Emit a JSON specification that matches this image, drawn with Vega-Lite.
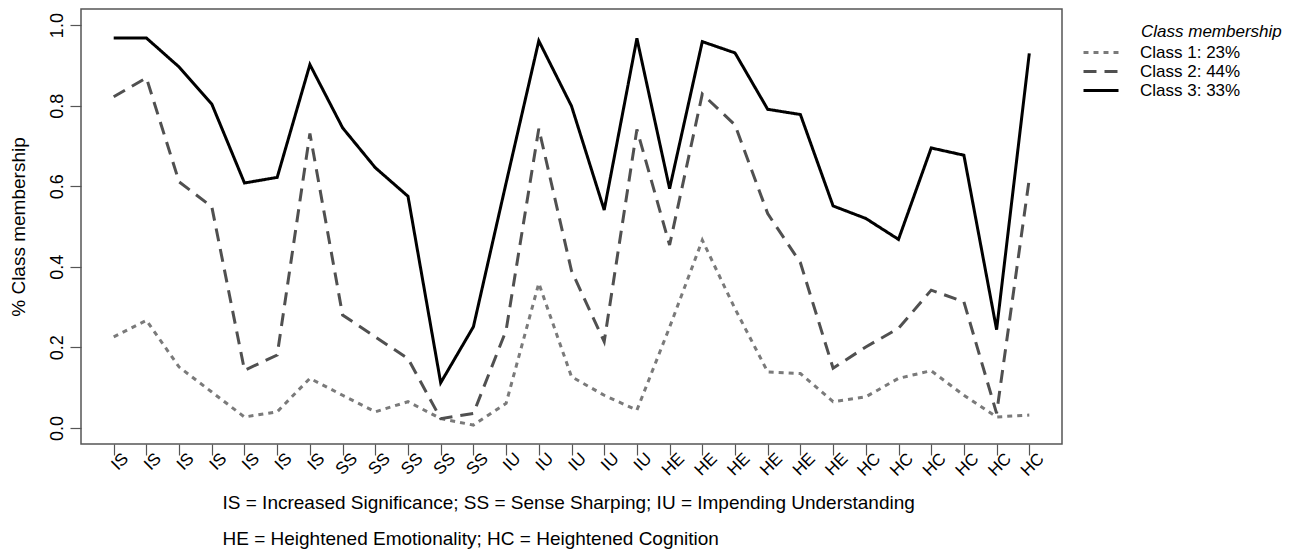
{
  "$schema": "https://vega.github.io/schema/vega-lite/v6.json",
  "width": 981,
  "height": 435,
  "autosize": {"type": "none"},
  "padding": {"left": 81, "top": 9, "right": 233, "bottom": 105},
  "background": "white",
  "data": {
    "values": [
      {"id": "IS1", "Class 1: 23%": 0.226, "Class 2: 44%": 0.822, "Class 3: 33%": 0.968},
      {"id": "IS2", "Class 1: 23%": 0.267, "Class 2: 44%": 0.869, "Class 3: 33%": 0.968},
      {"id": "IS3", "Class 1: 23%": 0.151, "Class 2: 44%": 0.611, "Class 3: 33%": 0.896},
      {"id": "IS4", "Class 1: 23%": 0.089, "Class 2: 44%": 0.549, "Class 3: 33%": 0.804},
      {"id": "IS5", "Class 1: 23%": 0.027, "Class 2: 44%": 0.143, "Class 3: 33%": 0.608},
      {"id": "IS6", "Class 1: 23%": 0.040, "Class 2: 44%": 0.181, "Class 3: 33%": 0.622},
      {"id": "IS7", "Class 1: 23%": 0.123, "Class 2: 44%": 0.731, "Class 3: 33%": 0.902},
      {"id": "SS1", "Class 1: 23%": 0.081, "Class 2: 44%": 0.280, "Class 3: 33%": 0.745},
      {"id": "SS2", "Class 1: 23%": 0.040, "Class 2: 44%": 0.226, "Class 3: 33%": 0.646},
      {"id": "SS3", "Class 1: 23%": 0.065, "Class 2: 44%": 0.172, "Class 3: 33%": 0.575},
      {"id": "SS4", "Class 1: 23%": 0.023, "Class 2: 44%": 0.023, "Class 3: 33%": 0.112},
      {"id": "SS5", "Class 1: 23%": 0.007, "Class 2: 44%": 0.036, "Class 3: 33%": 0.251},
      {"id": "IU1", "Class 1: 23%": 0.061, "Class 2: 44%": 0.242, "Class 3: 33%": 0.608},
      {"id": "IU2", "Class 1: 23%": 0.359, "Class 2: 44%": 0.743, "Class 3: 33%": 0.961},
      {"id": "IU3", "Class 1: 23%": 0.127, "Class 2: 44%": 0.390, "Class 3: 33%": 0.799},
      {"id": "IU4", "Class 1: 23%": 0.081, "Class 2: 44%": 0.214, "Class 3: 33%": 0.541},
      {"id": "IU5", "Class 1: 23%": 0.044, "Class 2: 44%": 0.741, "Class 3: 33%": 0.967},
      {"id": "HE1", "Class 1: 23%": 0.250, "Class 2: 44%": 0.454, "Class 3: 33%": 0.594},
      {"id": "HE2", "Class 1: 23%": 0.466, "Class 2: 44%": 0.829, "Class 3: 33%": 0.959},
      {"id": "HE3", "Class 1: 23%": 0.296, "Class 2: 44%": 0.752, "Class 3: 33%": 0.931},
      {"id": "HE4", "Class 1: 23%": 0.139, "Class 2: 44%": 0.532, "Class 3: 33%": 0.791},
      {"id": "HE5", "Class 1: 23%": 0.135, "Class 2: 44%": 0.410, "Class 3: 33%": 0.778},
      {"id": "HE6", "Class 1: 23%": 0.065, "Class 2: 44%": 0.148, "Class 3: 33%": 0.551},
      {"id": "HC1", "Class 1: 23%": 0.077, "Class 2: 44%": 0.201, "Class 3: 33%": 0.520},
      {"id": "HC2", "Class 1: 23%": 0.123, "Class 2: 44%": 0.247, "Class 3: 33%": 0.468},
      {"id": "HC3", "Class 1: 23%": 0.142, "Class 2: 44%": 0.342, "Class 3: 33%": 0.695},
      {"id": "HC4", "Class 1: 23%": 0.081, "Class 2: 44%": 0.313, "Class 3: 33%": 0.677},
      {"id": "HC5", "Class 1: 23%": 0.027, "Class 2: 44%": 0.036, "Class 3: 33%": 0.244},
      {"id": "HC6", "Class 1: 23%": 0.032, "Class 2: 44%": 0.619, "Class 3: 33%": 0.930}
    ]
  },
  "transform": [
    {"fold": ["Class 1: 23%", "Class 2: 44%", "Class 3: 33%"], "as": ["cls", "value"]}
  ],
  "mark": {"type": "line", "strokeCap": "butt", "strokeJoin": "miter"},
  "encoding": {
    "x": {
      "field": "id",
      "type": "ordinal",
      "sort": null,
      "scale": {"type": "point", "padding": 1.045},
      "axis": {
        "title": ["IS = Increased Significance; SS = Sense Sharping; IU = Impending Understanding", "HE = Heightened Emotionality; HC = Heightened Cognition"],
        "titleFontSize": 19,
        "titleX": 141,
        "titleY": 64,
        "titleAlign": "left",
        "titleBaseline": "alphabetic",
        "titleLineHeight": 36,
        "labelExpr": "substring(datum.label, 0, 2)",
        "labelAngle": -45,
        "labelAlign": "right",
        "labelBaseline": "top",
        "labelOffset": 6,
        "labelPadding": -5,
        "labelFontSize": 17,
        "tickSize": 11
      }
    },
    "y": {
      "field": "value",
      "type": "quantitative",
      "scale": {"domain": [-0.04, 1.04], "nice": false, "zero": false},
      "axis": {
        "title": "% Class membership",
        "titleFontSize": 19,
        "titleX": -63,
        "titleY": 217.5,
        "titleAngle": 270,
        "titleAlign": "center",
        "titleBaseline": "middle",
        "values": [0, 0.2, 0.4, 0.6, 0.8, 1.0],
        "format": ".1f",
        "labelAngle": 270,
        "labelAlign": "center",
        "labelBaseline": "bottom",
        "labelFontSize": 18,
        "labelPadding": 4,
        "tickSize": 11
      }
    },
    "color": {
      "field": "cls",
      "type": "nominal",
      "scale": {"range": ["#7a7a7a", "#505050", "#000000"]},
      "legend": {
        "orient": "none",
        "legendX": 1001,
        "legendY": 34,
        "title": null,
        "labelFontSize": 17,
        "labelColor": "#000",
        "symbolType": "stroke",
        "symbolSize": 1225,
        "symbolStrokeWidth": 3,
        "labelOffset": 20,
        "clipHeight": 19,
        "rowPadding": 0
      }
    },
    "strokeDash": {
      "field": "cls",
      "type": "nominal",
      "scale": {"range": [[5, 5], [13, 8], [1, 0]]},
      "legend": {
        "orient": "none",
        "legendX": 1001,
        "legendY": 34,
        "title": null,
        "labelFontSize": 17,
        "labelColor": "#000",
        "symbolType": "stroke",
        "symbolSize": 1225,
        "symbolStrokeWidth": 3,
        "labelOffset": 20,
        "clipHeight": 19,
        "rowPadding": 0
      }
    }
  },
  "title": {
    "text": "Class membership",
    "orient": "top",
    "anchor": "start",
    "frame": "group",
    "fontSize": 17,
    "fontStyle": "italic",
    "fontWeight": "normal",
    "color": "#000",
    "baseline": "alphabetic",
    "dx": 1060,
    "dy": 45,
    "offset": 0
  },
  "config": {
    "font": "Liberation Sans",
    "view": {"stroke": "#555", "strokeWidth": 1.5},
    "line": {"strokeWidth": 3},
    "axis": {
      "domain": false,
      "grid": false,
      "tickColor": "#555",
      "tickWidth": 1.2,
      "labelColor": "#000",
      "titleColor": "#000",
      "titleFontWeight": "normal"
    }
  }
}
